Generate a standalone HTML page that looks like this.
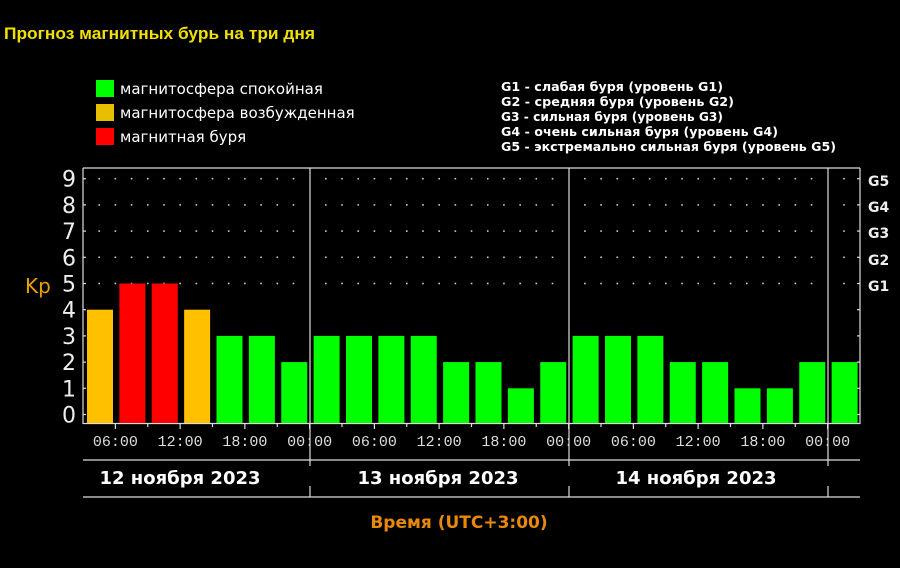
<!DOCTYPE html>
<html><head><meta charset="utf-8"><style>
html,body{margin:0;padding:0;background:#000;}
svg{display:block}
</style></head><body>
<svg width="900" height="568" xmlns="http://www.w3.org/2000/svg" font-family="'Liberation Sans','DejaVu Sans',sans-serif">
<rect width="900" height="568" fill="#000"/>
<text x="4" y="39" font-size="16.5" font-weight="bold" fill="#f0e000" textLength="311" lengthAdjust="spacingAndGlyphs">Прогноз магнитных бурь на три дня</text>
<rect x="96" y="80" width="18" height="17" fill="#00ff00"/>
<rect x="96" y="104" width="18" height="17" fill="#e6c000"/>
<rect x="96" y="128" width="18" height="17" fill="#ff0000"/>
<g font-size="15" fill="#fff" font-family="'DejaVu Sans',sans-serif">
<text x="120" y="94">магнитосфера спокойная</text>
<text x="120" y="118">магнитосфера возбужденная</text>
<text x="120" y="142">магнитная буря</text>
</g>
<g font-size="12.5" font-weight="bold" fill="#fff" font-family="'DejaVu Sans',sans-serif">
<text x="501" y="91" textLength="222" lengthAdjust="spacingAndGlyphs">G1 - слабая буря (уровень G1)</text>
<text x="501" y="106" textLength="233" lengthAdjust="spacingAndGlyphs">G2 - средняя буря (уровень G2)</text>
<text x="501" y="121" textLength="222" lengthAdjust="spacingAndGlyphs">G3 - сильная буря (уровень G3)</text>
<text x="501" y="136" textLength="277" lengthAdjust="spacingAndGlyphs">G4 - очень сильная буря (уровень G4)</text>
<text x="501" y="151" textLength="335" lengthAdjust="spacingAndGlyphs">G5 - экстремально сильная буря (уровень G5)</text>
</g>
<g stroke="#ddd" stroke-width="1.2" fill="none">
<line x1="83" y1="168" x2="860" y2="168"/>
<line x1="83" y1="168" x2="83" y2="424"/>
<line x1="860" y1="168" x2="860" y2="424"/>
<line x1="83" y1="423.5" x2="860" y2="423.5"/>
<line x1="310" y1="168" x2="310" y2="466"/>
<line x1="569" y1="168" x2="569" y2="466"/>
<line x1="828" y1="168" x2="828" y2="466"/>
<line x1="83" y1="460" x2="860" y2="460"/>
<line x1="83" y1="497" x2="860" y2="497"/>
<line x1="310" y1="486" x2="310" y2="497"/>
<line x1="569" y1="486" x2="569" y2="497"/>
<line x1="828" y1="486" x2="828" y2="497"/>
</g>
<g id="dots" fill="#ccc"></g>
<g id="bars"></g>
<g id="ticks" stroke="#ddd" stroke-width="1.2"></g>
<g font-size="22" fill="#eee" text-anchor="end" font-family="'DejaVu Sans',sans-serif" id="ylab"></g>
<g font-size="14" font-weight="bold" fill="#eee" font-family="'DejaVu Sans',sans-serif">
<text x="868" y="186">G5</text><text x="868" y="212">G4</text><text x="868" y="238">G3</text><text x="868" y="265">G2</text><text x="868" y="291">G1</text>
</g>
<text x="25" y="293" font-size="20" fill="#e8a000" font-family="'DejaVu Sans',sans-serif">Kp</text>
<g font-size="15" fill="#ddd" text-anchor="middle" font-family="'Liberation Mono',monospace" id="xlab"></g>
<g font-size="18" font-weight="bold" fill="#fff" text-anchor="middle" font-family="'DejaVu Sans',sans-serif">
<text x="180" y="484">12 ноября 2023</text>
<text x="438" y="484">13 ноября 2023</text>
<text x="696" y="484">14 ноября 2023</text>
</g>
<text x="459" y="528" font-size="17" font-weight="bold" fill="#e8880c" text-anchor="middle" font-family="'DejaVu Sans',sans-serif">Время (UTC+3:00)</text>
<script>
var ns="http://www.w3.org/2000/svg";
function el(p,t,a,txt){var e=document.createElementNS(ns,t);for(var k in a)e.setAttribute(k,a[k]);if(txt!==undefined)e.textContent=txt;document.getElementById(p).appendChild(e);}
var vals=[4,5,5,4,3,3,2,3,3,3,3,2,2,1,2,3,3,3,2,2,1,1,2,2];
var P=32.375;
vals.forEach(function(v,i){var c=v>=5?"#ff0000":v==4?"#ffc000":"#00ff00";var top=414.5-26.2*v;el("bars","rect",{x:87+P*i,y:top,width:26,height:423-top,fill:c});});
for(var lv=5;lv<=9;lv++){var y=414.5-26.2*lv;for(var k=1;k<48;k++){var x=83+16.19*k;if(Math.abs(x-310)<4||Math.abs(x-569)<4||Math.abs(x-828)<4)continue;el("dots","rect",{x:x-0.8,y:y-0.8,width:1.6,height:1.6});}}
for(var lv=0;lv<=9;lv++){var y=414.5-26.2*lv;el("ylab","text",{x:76,y:y+8},String(lv));el("ticks","line",{x1:83,y1:y,x2:86,y2:y});el("ticks","line",{x1:857,y1:y,x2:860,y2:y});}
var labs=["06:00","12:00","18:00","00:00"];
for(var b=1;b<24;b++){var x=83+P*b;el("ticks","line",{x1:x,y1:423,x2:x,y2:b%2?429:427});if(b%2)el("xlab","text",{x:x,y:446},labs[((b-1)/2)%4]);}
</script>
</svg>
</body></html>
